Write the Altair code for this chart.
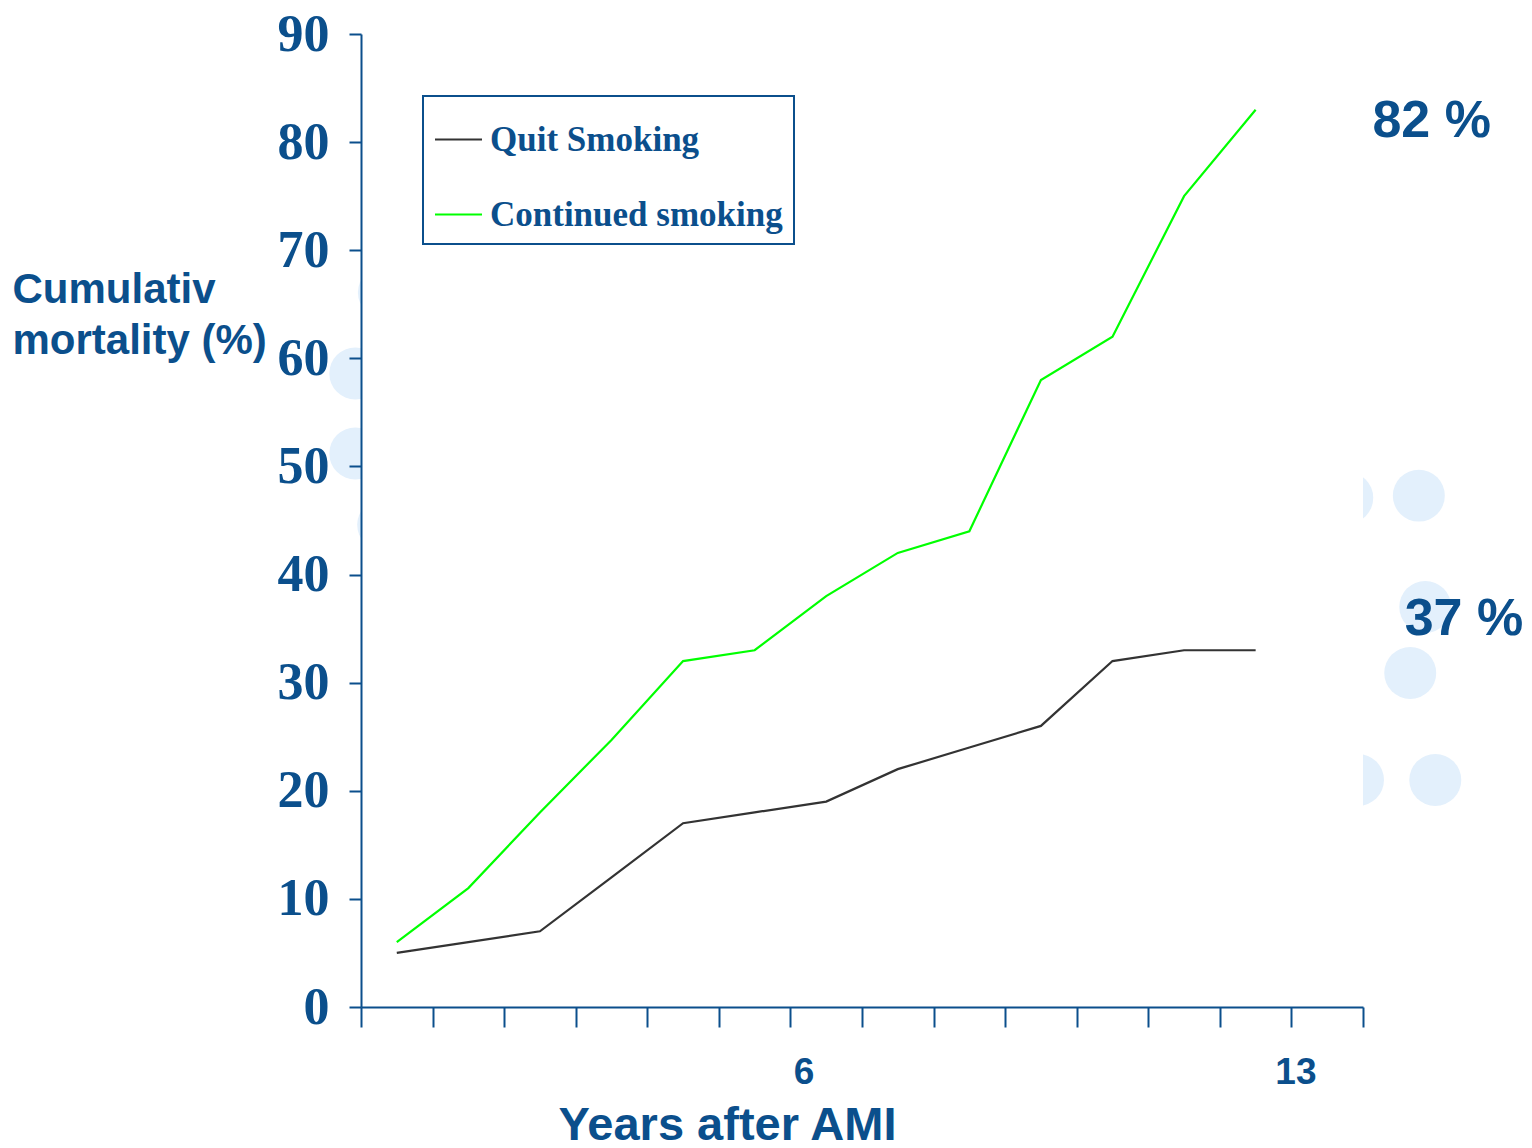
import altair as alt
import pandas as pd

# ---- data ----
years = [0.5, 1.5, 2.5, 3.5, 4.5, 5.5, 6.5, 7.5, 8.5, 9.5, 10.5, 11.5, 12.5]
quit_smoking = [5, 6, 7, 12, 17, 18, 19, 22, 24, 26, 32, 33, 33]
continued_smoking = [6, 11, 18, 24.7, 32, 33, 38, 42, 44, 58, 62, 75, 83]
series_names = ["Quit Smoking", "Continued smoking"]
series_colors = ["#333333", "#00FF00"]

y_ticks = list(range(0, 91, 10))
x_ticks = list(range(0, 15))
x_labelled = [6, 13]

end_labels = ["82 %", "37 %"]
end_label_x = [14.96, 15.41]
end_label_y = [80.5, 34.4]

# faint decorative bubbles of the slide template (data units)
bubble_x = [14.78, 13.78, 14.87, 14.66, 13.61, 15.01, 13.93, 0.32, -0.08, -0.08, 0.31]
bubble_y = [47.3, 47.1, 37.0, 30.9, 30.9, 21.0, 21.0, 66.1, 58.6, 51.2, 44.6]

BLUE = "#0B4F8C"

lines_df = pd.DataFrame(
    {
        "x": years * 2,
        "y": quit_smoking + continued_smoking,
        "series": [series_names[0]] * len(years) + [series_names[1]] * len(years),
    }
)
labels_df = pd.DataFrame({"x": end_label_x, "y": end_label_y, "t": end_labels})
bubbles_df = pd.DataFrame({"x": bubble_x, "y": bubble_y})
frame_df = pd.DataFrame({"x": [0], "x2": [14], "y": [0], "y2": [90]})

label_test = " || ".join(f"datum.value == {v}" for v in x_labelled)

x_axis = alt.Axis(
    values=x_ticks,
    labelExpr=f"({label_test}) ? datum.label : ''",
    tickSize=20,
    tickWidth=2,
    tickColor=BLUE,
    domainColor=BLUE,
    domainWidth=2,
    grid=False,
    labelFont="Liberation Sans",
    labelFontWeight="bold",
    labelFontSize=37,
    labelColor=BLUE,
    labelBaseline="alphabetic",
    labelPadding=56,
    labelOffset={"condition": {"test": "datum.value == 6", "value": 13}, "value": 4},
    title="Years after AMI",
    titleFont="Liberation Sans",
    titleFontWeight="bold",
    titleFontSize=47,
    titleColor=BLUE,
    titleAnchor="start",
    titleAlign="center",
    titleBaseline="alphabetic",
    titleX=366,
    titleY=132,
    zindex=1,
)

y_axis = alt.Axis(
    values=y_ticks,
    tickSize=12,
    tickWidth=2,
    tickColor=BLUE,
    domainColor=BLUE,
    domainWidth=2,
    grid=False,
    labelFont="Liberation Serif",
    labelFontWeight="bold",
    labelFontSize=52,
    labelColor=BLUE,
    labelPadding=20,
    title=["Cumulativ", "mortality (%)"],
    titleAngle=0,
    titleAlign="left",
    titleBaseline="alphabetic",
    titleX=-349,
    titleY=268,
    titleFont="Liberation Sans",
    titleFontWeight="bold",
    titleFontSize=42,
    titleLineHeight=51,
    titleColor=BLUE,
    zindex=1,
)

X = alt.X("x:Q", scale=alt.Scale(domain=[0, 14], nice=False, zero=False), axis=x_axis)
Y = alt.Y("y:Q", scale=alt.Scale(domain=[0, 90], nice=False), axis=y_axis)

bubbles = alt.Chart(bubbles_df).mark_circle(
    color="#E3F0FC", opacity=1, size=2700
).encode(x=X, y=Y)

frame = alt.Chart(frame_df).mark_rect(color="white").encode(
    x=X, x2="x2:Q", y=Y, y2="y2:Q"
)

lines = alt.Chart(lines_df).mark_line(strokeWidth=2.2).encode(
    x=X,
    y=Y,
    color=alt.Color(
        "series:N",
        scale=alt.Scale(domain=series_names, range=series_colors),
        sort=series_names,
        legend=alt.Legend(
            orient="none",
            legendX=62,
            legendY=62,
            title=" ",
            titleFontSize=1,
            titlePadding=7,
            labelFont="Liberation Serif",
            labelFontWeight="bold",
            labelFontSize=35,
            labelColor=BLUE,
            labelLimit=600,
            labelOffset=7,
            symbolType="stroke",
            symbolSize=2209,
            symbolStrokeWidth=2,
            padding=11,
            rowPadding=32,
            strokeColor=BLUE,
            fillColor="white",
        ),
    ),
)

annotations = alt.Chart(labels_df).mark_text(
    font="Liberation Sans",
    fontWeight="bold",
    fontSize=52,
    color=BLUE,
    align="center",
    baseline="alphabetic",
).encode(x=X, y=Y, text="t:N")

chart = (
    alt.layer(bubbles, frame, lines, annotations)
    .properties(
        width=1002,
        height=973,
        padding={"left": 353, "top": 26, "right": 160, "bottom": 140},
        autosize=alt.AutoSizeParams(type="none"),
        background="white",
    )
    .configure_view(stroke=None)
    .configure_legend(strokeWidth=2)
)

chart.save("out.html", embed_options={"renderer": "svg", "actions": False})
